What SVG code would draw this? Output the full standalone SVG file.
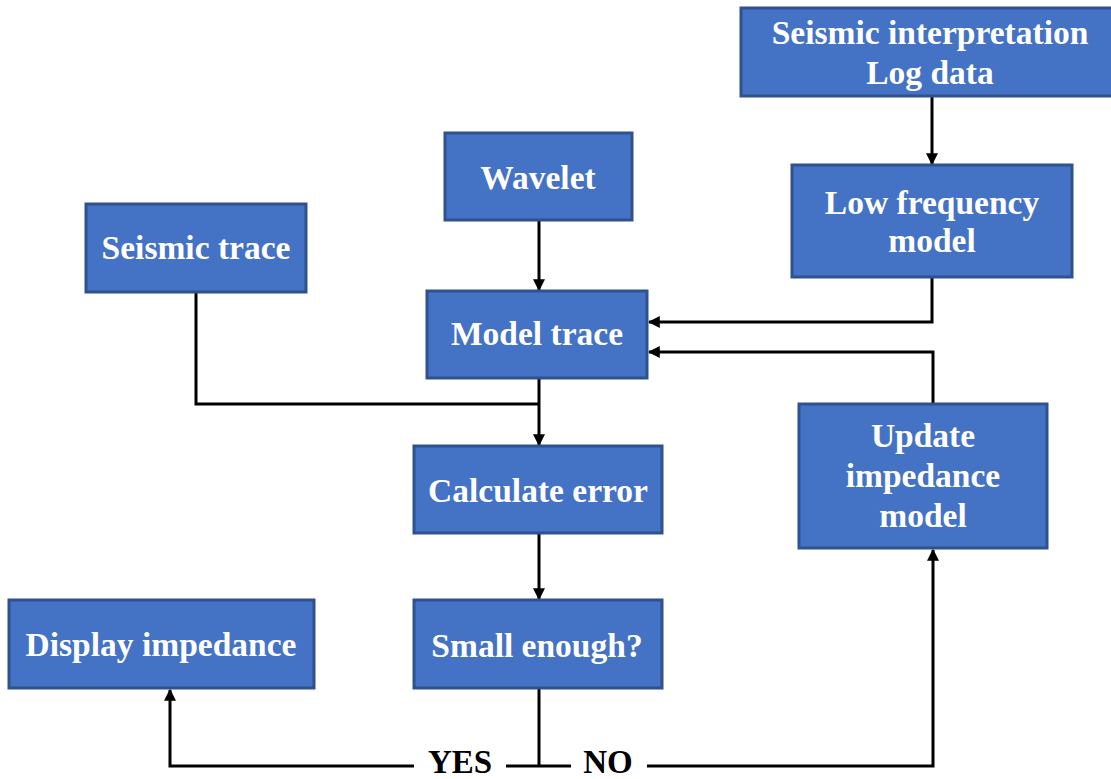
<svg xmlns="http://www.w3.org/2000/svg" width="1111" height="779" viewBox="0 0 1111 779">
  <style>
    .box { fill: #4472C4; stroke: #2F528F; stroke-width: 3; }
    .lbl { font-family: "Liberation Serif", "Times New Roman", serif; font-weight: bold; font-size: 33.5px; fill: #FFFFFF; text-anchor: middle; }
    .yn { font-family: "Liberation Serif", "Times New Roman", serif; font-weight: bold; font-size: 33px; fill: #000000; text-anchor: middle; }
    .wire { fill: none; stroke: #000000; stroke-width: 3; }
  </style>
  <defs>
    <marker id="arrow" viewBox="0 0 10 10" refX="9" refY="5" markerWidth="4" markerHeight="4" orient="auto" markerUnits="strokeWidth">
      <path d="M0,0 L10,5 L0,10 z" fill="#000000"/>
    </marker>
  </defs>
  <rect width="1111" height="779" fill="#FFFFFF"/>

  <!-- connectors -->
  <g id="connectors">
    <path class="wire" d="M932,97 L932,164" marker-end="url(#arrow)"/>
    <path class="wire" d="M539,220 L539,290" marker-end="url(#arrow)"/>
    <path class="wire" d="M932,277 L932,322 L649,322" marker-end="url(#arrow)"/>
    <path class="wire" d="M933,404 L933,352 L649,352" marker-end="url(#arrow)"/>
    <path class="wire" d="M196,292 L196,404 L539,404"/>
    <path class="wire" d="M539,378 L539,445" marker-end="url(#arrow)"/>
    <path class="wire" d="M539,533 L539,599" marker-end="url(#arrow)"/>
    <path class="wire" d="M539,688 L539,766"/>
    <path class="wire" d="M414,766 L170,766 L170,690" marker-end="url(#arrow)"/>
    <path class="wire" d="M506,766 L571,766"/>
    <path class="wire" d="M647,766 L933,766 L933,550" marker-end="url(#arrow)"/>
    <text class="yn" x="460" y="773">YES</text>
    <text class="yn" x="608" y="773">NO</text>
  </g>

  <g id="seismic-interpretation">
    <rect class="box" x="741" y="8" width="376" height="88"/>
    <text class="lbl" x="930" y="44">Seismic interpretation</text>
    <text class="lbl" x="930" y="84">Log data</text>
  </g>

  <g id="low-frequency-model">
    <rect class="box" x="792" y="165" width="280" height="112"/>
    <text class="lbl" x="932" y="214">Low frequency</text>
    <text class="lbl" x="932" y="252">model</text>
  </g>

  <g id="wavelet">
    <rect class="box" x="445" y="133" width="187" height="87"/>
    <text class="lbl" x="538" y="189">Wavelet</text>
  </g>

  <g id="seismic-trace">
    <rect class="box" x="86" y="204" width="220" height="88"/>
    <text class="lbl" x="196" y="259">Seismic trace</text>
  </g>

  <g id="model-trace">
    <rect class="box" x="427" y="291" width="220" height="87"/>
    <text class="lbl" x="537" y="345">Model trace</text>
  </g>

  <g id="calculate-error">
    <rect class="box" x="414" y="446" width="248" height="87"/>
    <text class="lbl" x="538" y="502">Calculate error</text>
  </g>

  <g id="update-impedance-model">
    <rect class="box" x="799" y="404" width="248" height="144"/>
    <text class="lbl" x="923" y="447">Update</text>
    <text class="lbl" x="923" y="487">impedance</text>
    <text class="lbl" x="923" y="527">model</text>
  </g>

  <g id="display-impedance">
    <rect class="box" x="9" y="600" width="305" height="88"/>
    <text class="lbl" x="161" y="656">Display impedance</text>
  </g>

  <g id="small-enough">
    <rect class="box" x="414" y="600" width="248" height="88"/>
    <text class="lbl" x="537" y="657">Small enough?</text>
  </g>
</svg>
